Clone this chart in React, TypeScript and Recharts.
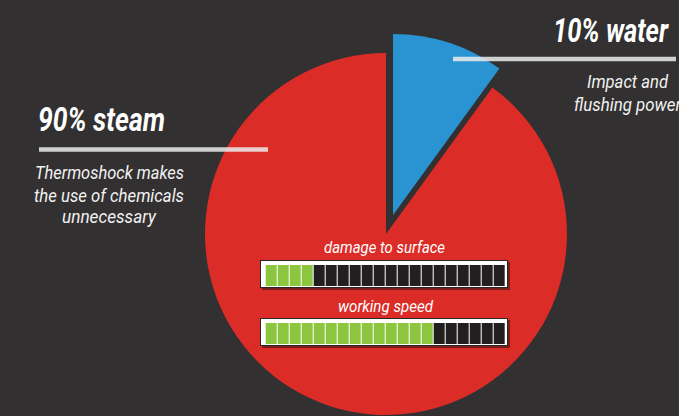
import React from "react";
import { PieChart, Pie, Cell, BarChart, Bar, XAxis, YAxis } from "recharts";

const shares = [
  { name: "water", value: 10 },
  { name: "steam", value: 90 },
];
const sliceColors = ["#2a93d2", "#dc2c27"];

const segmentCount = 20;
const damageLevel = 4;
const speedLevel = 14;
const gaugeLabels = ["damage to surface", "working speed"];

const BG = "#323031";
const GREEN = "#8cc63f";
const DARK = "#231f20";

function buildSegments(level: number) {
  const rows: { seg: number; v: number; on: boolean }[] = [];
  for (let i = 1; i <= segmentCount; i++) rows.push({ seg: i, v: 1, on: i <= level });
  return rows;
}

function Gauge({ top, level }: { top: number; level: number }) {
  const data = buildSegments(level);
  return (
    <div
      style={{
        position: "absolute",
        left: 260,
        top,
        width: 246,
        height: 26,
        background: "#ffffff",
        border: "1px solid #2b2526",
        boxShadow: "2px 2px 0 rgba(40,20,20,0.55)",
      }}
    >
      <div style={{ position: "absolute", left: 4, top: 4 }}>
        <BarChart width={240} height={21} data={data} margin={{ top: 0, right: 0, bottom: 0, left: 0 }} barCategoryGap={0.7}>
          <XAxis dataKey="seg" type="category" hide />
          <YAxis type="number" domain={[0, 1]} hide />
          <Bar dataKey="v" isAnimationActive={false}>
            {data.map((d) => (
              <Cell key={d.seg} fill={d.on ? GREEN : DARK} />
            ))}
          </Bar>
        </BarChart>
      </div>
    </div>
  );
}

export default function App() {
  const heading = {
    fontFamily: "Roboto, sans-serif",
    fontWeight: 700,
    fontStyle: "italic",
    fontSize: 34,
    fill: "#ffffff",
  } as const;
  const sub = {
    fontFamily: "Roboto, sans-serif",
    fontWeight: 400,
    fontStyle: "italic",
    fontSize: 18,
    fill: "#f2f2f2",
  } as const;
  const gaugeText = { ...sub, fontSize: 17, fill: "#ffffff" };
  return (
    <div style={{ position: "absolute", left: 0, top: 0, width: 679, height: 416, background: BG, overflow: "hidden" }}>
      <div style={{ position: "absolute", left: 0, top: 0 }}>
        <PieChart width={679} height={416} margin={{ top: 0, right: 0, bottom: 0, left: 0 }}>
          <Pie
            data={shares}
            dataKey="value"
            cx={386}
            cy={234}
            outerRadius={181}
            startAngle={90}
            endAngle={-270}
            stroke="none"
            isAnimationActive={false}
          >
            {shares.map((s, i) => (
              <Cell key={s.name} fill={i === 1 ? sliceColors[1] : "transparent"} />
            ))}
          </Pie>
          <Pie
            data={shares}
            dataKey="value"
            cx={393}
            cy={215}
            outerRadius={181}
            startAngle={90}
            endAngle={-270}
            stroke="none"
            isAnimationActive={false}
          >
            {shares.map((s, i) => (
              <Cell key={s.name} fill={i === 0 ? sliceColors[0] : "transparent"} />
            ))}
          </Pie>
        </PieChart>
      </div>
      <svg width={679} height={416} style={{ position: "absolute", left: 0, top: 0, pointerEvents: "none" }}>
        <line x1={453} y1={59} x2={676} y2={59} stroke="rgba(236,236,236,0.85)" strokeWidth={4.5} />
        <line x1={39} y1={149.5} x2={268} y2={149.5} stroke="rgba(236,236,236,0.85)" strokeWidth={4.5} />
        <text x={553} y={42} style={heading} textLength={115} lengthAdjust="spacingAndGlyphs">10% water</text>
        <text x={38} y={131} style={heading} textLength={127} lengthAdjust="spacingAndGlyphs">90% steam</text>
        <text x={109.5} y={179} textAnchor="middle" style={sub} textLength={149} lengthAdjust="spacingAndGlyphs">Thermoshock makes</text>
        <text x={109} y={202} textAnchor="middle" style={sub} textLength={150} lengthAdjust="spacingAndGlyphs">the use of chemicals</text>
        <text x={109} y={223} textAnchor="middle" style={sub} textLength={94} lengthAdjust="spacingAndGlyphs">unnecessary</text>
        <text x={627.5} y={88} textAnchor="middle" style={sub} textLength={81} lengthAdjust="spacingAndGlyphs">Impact and</text>
        <text x={627.5} y={111} textAnchor="middle" style={sub} textLength={107} lengthAdjust="spacingAndGlyphs">flushing power</text>
        <text x={384.5} y={253} textAnchor="middle" style={gaugeText} textLength={121} lengthAdjust="spacingAndGlyphs">{gaugeLabels[0]}</text>
        <text x={385.5} y={312} textAnchor="middle" style={gaugeText} textLength={95} lengthAdjust="spacingAndGlyphs">{gaugeLabels[1]}</text>
      </svg>
      <Gauge top={260} level={damageLevel} />
      <Gauge top={318} level={speedLevel} />
    </div>
  );
}
